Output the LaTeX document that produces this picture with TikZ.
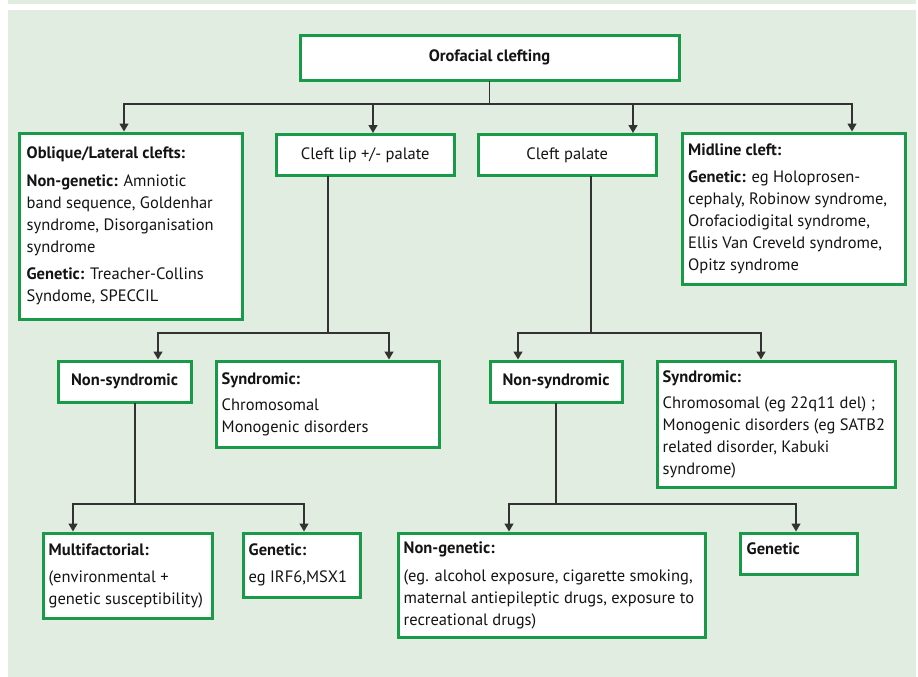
\documentclass[tikz,border=0pt]{standalone}
\usepackage{fontspec}
\setmainfont{PT Sans}
\usetikzlibrary{arrows.meta,calc}
\definecolor{bggreen}{RGB}{225,237,224}
\definecolor{boxgreen}{RGB}{24,154,72}
\definecolor{linegray}{RGB}{50,50,50}
\definecolor{txtcol}{RGB}{20,20,20}
\newcommand{\fs}{\fontsize{16.5}{22}\selectfont}
\begin{document}
\begin{tikzpicture}[x=1pt,y=-1pt,
  box/.style={draw=boxgreen, line width=3pt, fill=white, inner sep=0pt, font=\fs, text=txtcol},
  lbl/.style={anchor=west, align=left, inner sep=0pt, font=\fs, text=txtcol},
  conn/.style={draw=linegray, line width=1.4pt, line cap=rect},
  arr/.style={draw=linegray, line width=1.4pt, -{Triangle[width=9pt,length=8pt]}},
]
\useasboundingbox (0,0) rectangle (918,677);
\fill[bggreen] (8,0) rectangle (916,3.7);
\fill[bggreen] (8,10) rectangle (916,677);

% boxes
\node[box, minimum width=379, minimum height=44.5] (root) at (489.5,57.75) {\textbf{Orofacial clefting}};
\node[box, minimum width=222.5, minimum height=186] (obl) at (130.75,226) {};
\node[box, minimum width=178.5, minimum height=41] (lip) at (365.25,155) {Cleft lip +/- palate};
\node[box, minimum width=178.5, minimum height=41] (pal) at (567.25,155) {Cleft palate};
\node[box, minimum width=223.5, minimum height=151.5] (mid) at (793.75,208.75) {};
\node[box, minimum width=133, minimum height=41] (ns1) at (124.5,381.5) {\textbf{Non-syndromic}};
\node[box, minimum width=223, minimum height=86] (sy1) at (327.5,404) {};
\node[box, minimum width=132, minimum height=41] (ns2) at (556,381.5) {\textbf{Non-syndromic}};
\node[box, minimum width=238.5, minimum height=126] (sy2) at (776.25,424) {};
\node[box, minimum width=169.5, minimum height=85.5] (mf) at (127.75,575.75) {};
\node[box, minimum width=117, minimum height=64] (ge1) at (301.5,565) {};
\node[box, minimum width=307.5, minimum height=104] (ng) at (551.75,585) {};
\node[box, minimum width=117.5, minimum height=41] (ge2) at (798.75,553.5) {};

% texts
\node[lbl] (oblt) at ($(obl.west)+(8.5,0)$) {\textbf{Oblique/Lateral clefts:}\\[5.5pt]
  \textbf{Non-genetic:} Amniotic\\ band sequence, Goldenhar\\ syndrome, Disorganisation\\ syndrome\\[5.5pt]
  \textbf{Genetic:} Treacher-Collins\\ Syndome, SPECCIL};
\node[lbl] (midt) at ($(mid.west)+(7.5,0)$) {\textbf{Midline cleft:}\\[5pt]
  \textbf{Genetic:} eg Holoprosen-\\ cephaly, Robinow syndrome,\\ Orofaciodigital syndrome,\\ Ellis Van Creveld syndrome,\\ Opitz syndrome};
\node[lbl] (sy1t) at ($(sy1.west)+(7,0)$) {\textbf{Syndromic:}\\[4pt] Chromosomal\\ Monogenic disorders};
\node[lbl] (sy2t) at ($(sy2.west)+(7,0)$) {\textbf{Syndromic:}\\[4pt] Chromosomal (eg 22q11 del) ;\\ Monogenic disorders (eg SATB2\\ related disorder, Kabuki\\ syndrome)};
\node[lbl] (mft) at ($(mf.west)+(7,0)$) {\textbf{Multifactorial:}\\[5pt] (environmental +\\ genetic susceptibility)};
\node[lbl] (ge1t) at ($(ge1.west)+(7,0)$) {\textbf{Genetic:}\\[5pt] eg IRF6,MSX1};
\node[lbl] (ngt) at ($(ng.west)+(7,0)$) {\textbf{Non-genetic:}\\[6pt] (eg. alcohol exposure, cigarette smoking,\\ maternal antiepileptic drugs, exposure to\\ recreational drugs)};
\node[lbl, anchor=base west] (ge2t) at ($(ge2.north west)+(8,22.5)$) {\textbf{Genetic}};

% level 1 connectors
\coordinate (j0) at (root.south |- 0,104);
\coordinate (a1) at (124,104);
\coordinate (a2) at (373,104);
\coordinate (a3) at (633,104);
\coordinate (a4) at (852,104);
\draw[conn] (root.south) -- (j0);
\draw[conn] (a1) -- (a4);
\draw[arr] (a1) -- (a1 |- obl.north);
\draw[arr] (a2) -- (a2 |- lip.north);
\draw[arr] (a3) -- (a3 |- pal.north);
\draw[arr] (a4) -- (a4 |- mid.north);

% level 2 left
\coordinate (j1) at (328,333);
\coordinate (b1) at (158,333);
\coordinate (b2) at (389,333);
\draw[conn] (lip.south -| j1) -- (j1);
\draw[conn] (b1) -- (b2);
\draw[arr] (b1) -- (b1 |- ns1.north);
\draw[arr] (b2) -- (b2 |- sy1.north);

% level 2 right
\coordinate (j2) at (591,333);
\coordinate (c1) at (518,333);
\coordinate (c2) at (761,333);
\draw[conn] (pal.south -| j2) -- (j2);
\draw[conn] (c1) -- (c2);
\draw[arr] (c1) -- (c1 |- ns2.north);
\draw[arr] (c2) -- (c2 |- sy2.north);

% level 3 left
\coordinate (j3) at (135,504);
\coordinate (d1) at (73,504);
\coordinate (d2) at (304,504);
\draw[conn] (ns1.south -| j3) -- (j3);
\draw[conn] (d1) -- (d2);
\draw[arr] (d1) -- (d1 |- mf.north);
\draw[arr] (d2) -- (d2 |- ge1.north);

% level 3 right
\coordinate (j4) at (556,504);
\coordinate (e1) at (509,504);
\coordinate (e2) at (796,504);
\draw[conn] (ns2.south -| j4) -- (j4);
\draw[conn] (e1) -- (e2);
\draw[arr] (e1) -- (e1 |- ng.north);
\draw[arr] (e2) -- (e2 |- ge2.north);
\end{tikzpicture}
\end{document}
